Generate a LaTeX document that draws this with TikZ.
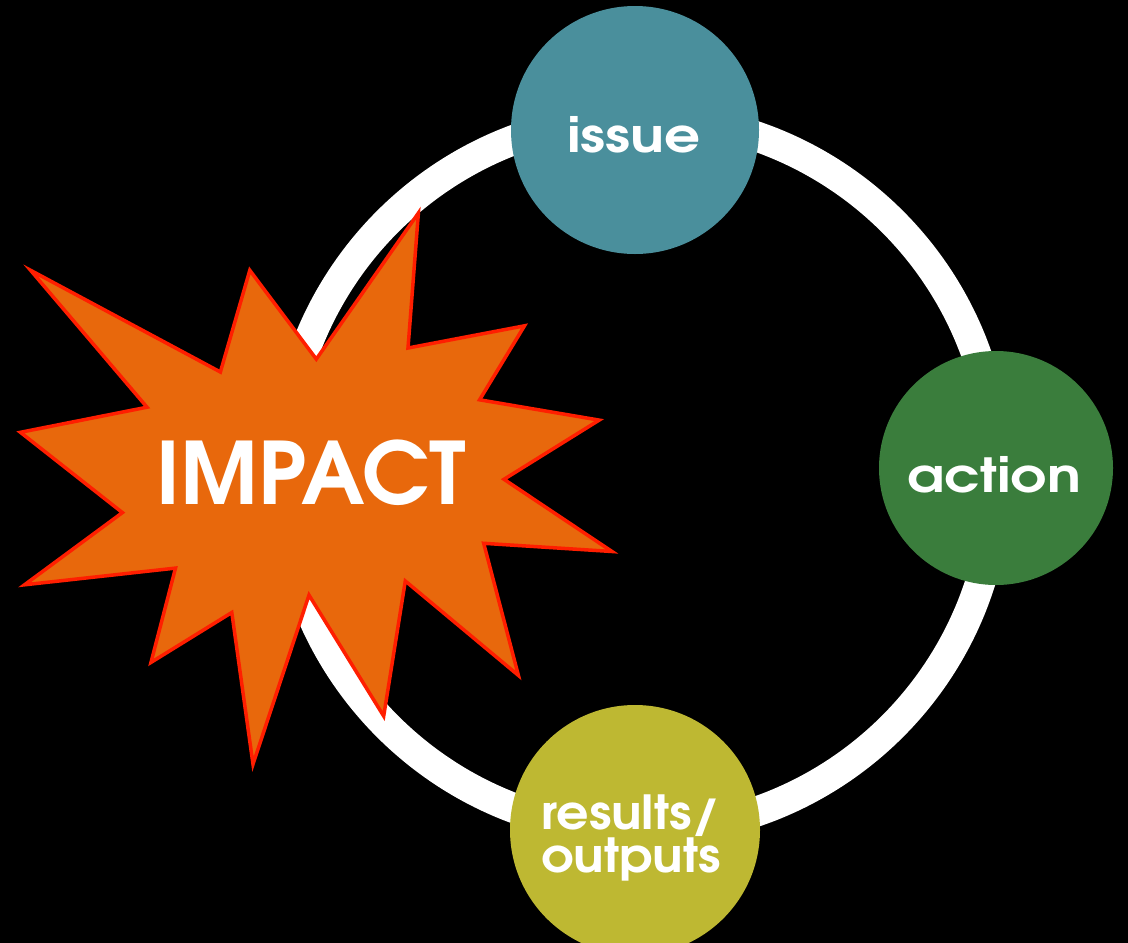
\documentclass[tikz,border=0pt]{standalone}
\usepackage{fontspec}
\newfontfamily\popfont{texgyreadventor-bold.otf}
\newfontfamily\popwide{texgyreadventor-bold.otf}[FakeStretch=1.2]
\newfontfamily\popmid{texgyreadventor-bold.otf}[FakeStretch=1.08]
\definecolor{bgblack}{RGB}{0,0,0}
\definecolor{issuecol}{RGB}{74,143,156}
\definecolor{actioncol}{RGB}{58,125,60}
\definecolor{resultcol}{RGB}{190,184,50}
\definecolor{burstcol}{RGB}{232,104,12}
\definecolor{burstline}{RGB}{255,30,0}
\begin{document}
\begin{tikzpicture}[x=1pt,y=-1pt,
  stagecircle/.style={circle, inner sep=0pt, minimum size=#1},
  stagetext/.style={text=white, inner sep=0pt, align=center,
    font=\popwide\fontsize{47}{32}\selectfont},
  ringline/.style={draw=white, line width=30pt},
  burst/.style={fill=burstcol, draw=burstline, line width=3.5pt, line join=miter},
  bursttext/.style={text=white, inner sep=0pt, font=\popfont\fontsize{86}{86}\selectfont}
]
\useasboundingbox (0,0) rectangle (1128,943);
\fill[bgblack] (0,0) rectangle (1128,943);
\begin{scope}
\clip (0,0) rectangle (1128,943);
% ring
\draw[ringline] (640,474) circle[radius=357pt];
% stages
\node[stagecircle=248pt, fill=issuecol] (issue) at (635,130) {};
\node[stagecircle=234pt, fill=actioncol] (action) at (996,468) {};
\node[stagecircle=250pt, fill=resultcol] (results) at (635,830) {};
\node[stagetext, anchor=base] (issuetext) at (634,152) {issue};
\node[stagetext, anchor=base] (actiontext) at (994,492) {action};
\node[stagetext, font=\popmid\fontsize{47}{32}\selectfont] (resultstext) at (631,838) {results/\\outputs};
% starburst
\draw[burst] (418.4,213) -- (408,348) -- (524.5,325.8) -- (479.6,399.8) -- (599.2,420.1)
  -- (504,479.3) -- (612,551.5) -- (483.7,543.3) -- (518.4,675.4) -- (405.3,581)
  -- (383.7,716.1) -- (309,595.1) -- (253,764.2) -- (231.8,612.5) -- (151,662.4)
  -- (175.5,568.1) -- (24.5,584.8) -- (122.4,512.6) -- (20.4,432.3) -- (147,407.2)
  -- (30.6,270.3) -- (220.4,372) -- (249.8,270.3) -- (316.3,359.1) -- cycle;
\node[bursttext] (impact) at (311,473) {IMPACT};
\end{scope}
\end{tikzpicture}
\end{document}
